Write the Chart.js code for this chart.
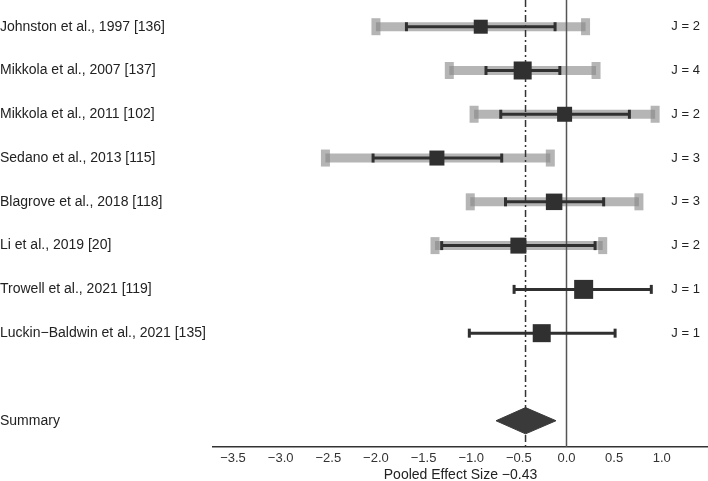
<!DOCTYPE html>
<html>
<head>
<meta charset="utf-8">
<script src="https://cdn.jsdelivr.net/npm/chart.js@4.4.1/dist/chart.umd.min.js"></script>
<style>
    html, body { margin: 0; padding: 0; background: #fff; }
    #wrap { width: 708px; height: 481px; }
</style>
</head>
<body>
<div id="wrap"><canvas id="forestChart"></canvas></div>
<script>
const studies = [
    'Johnston et al., 1997 [136]',
    'Mikkola et al., 2007 [137]',
    'Mikkola et al., 2011 [102]',
    'Sedano et al., 2013 [115]',
    'Blagrove et al., 2018 [118]',
    'Li et al., 2019 [20]',
    'Trowell et al., 2021 [119]',
    'Luckin\u2212Baldwin et al., 2021 [135]'
];
const estimate = [-0.90, -0.46, -0.02, -1.36, -0.13, -0.505, 0.18, -0.26];
const ciLow = [-1.68, -0.845, -0.69, -2.03, -0.64, -1.31, -0.55, -1.02];
const ciHigh = [-0.12, -0.07, 0.66, -0.68, 0.39, 0.30, 0.89, 0.51];
const outerLow = [-2.00, -1.23, -0.97, -2.53, -1.01, -1.38, null, null];
const outerHigh = [0.20, 0.31, 0.93, -0.17, 0.76, 0.38, null, null];
const nEffects = [2, 4, 2, 3, 3, 2, 1, 1];
const weights = [14, 18, 15, 15, 16.5, 16, 19, 18];
const pooled = -0.43;
const pooledLow = -0.74;
const pooledHigh = -0.11;
const xTicks = [-3.5, -3.0, -2.5, -2.0, -1.5, -1.0, -0.5, 0.0, 0.5, 1.0];

const rowLabels = [...studies, '', 'Summary'];
const summaryRow = rowLabels.length;
const yMin = 0.39;
const yMax = 10.6;
const diamondHalf = 0.3;
const jLabelX = 1.1;

const dark = '#303030';
const grayBand = 'rgba(136, 136, 136, 0.62)';
const fontFamily = '"Liberation Sans", Arial, sans-serif';

Chart.defaults.font.family = fontFamily;

const fmt = v => v.toFixed(1).replace('-', '\u2212');

const datasets = [];

// серые интервалы и тёмные доверительные интервалы
studies.forEach((s, i) => {
    if (outerLow[i] !== null) {
        datasets.push({
            type: 'line',
            data: [{x: outerLow[i], y: i + 1}, {x: outerHigh[i], y: i + 1}],
            borderColor: grayBand,
            borderWidth: 9,
            borderCapStyle: 'butt',
            pointRadius: 0,
            order: 7
        });
    }
    datasets.push({
        type: 'line',
        data: [{x: ciLow[i], y: i + 1}, {x: ciHigh[i], y: i + 1}],
        borderColor: dark,
        borderWidth: 3,
        borderCapStyle: 'butt',
        pointRadius: 0,
        order: 3
    });
});

const grayCaps = [];
const darkCaps = [];
studies.forEach((s, i) => {
    if (outerLow[i] !== null) {
        grayCaps.push({x: outerLow[i], y: i + 1}, {x: outerHigh[i], y: i + 1});
    }
    darkCaps.push({x: ciLow[i], y: i + 1}, {x: ciHigh[i], y: i + 1});
});

datasets.push({
    type: 'scatter',
    data: grayCaps,
    pointStyle: 'line',
    pointRotation: 90,
    pointRadius: 8.5,
    pointBorderWidth: 9,
    pointBorderColor: grayBand,
    order: 6
});

datasets.push({
    type: 'scatter',
    data: darkCaps,
    pointStyle: 'line',
    pointRotation: 90,
    pointRadius: 4.5,
    pointBorderWidth: 3,
    pointBorderColor: dark,
    order: 2
});

datasets.push({
    type: 'scatter',
    data: estimate.map((v, i) => ({x: v, y: i + 1})),
    pointStyle: 'rect',
    pointRadius: weights.map(w => w / Math.SQRT2),
    pointBackgroundColor: dark,
    pointBorderWidth: 0,
    order: 0
});

// ромб суммарного эффекта
datasets.push({
    type: 'line',
    data: [
        {x: pooledLow, y: summaryRow},
        {x: pooled, y: summaryRow - diamondHalf},
        {x: pooledHigh, y: summaryRow},
        {x: pooled, y: summaryRow + diamondHalf},
        {x: pooledLow, y: summaryRow}
    ],
    fill: 'shape',
    backgroundColor: '#3a3a3a',
    borderColor: '#3a3a3a',
    borderWidth: 1,
    pointRadius: 0,
    order: 1
});

datasets.push({
    type: 'line',
    data: [{x: 0, y: yMin}, {x: 0, y: yMax}],
    borderColor: '#555',
    borderWidth: 1.5,
    pointRadius: 0,
    order: 4
});

datasets.push({
    type: 'line',
    data: [{x: pooled, y: yMin}, {x: pooled, y: yMax}],
    borderColor: '#333',
    borderWidth: 1.5,
    borderDash: [7, 3, 2, 3],
    pointRadius: 0,
    order: 5
});

const jLabelPlugin = {
    id: 'jLabels',
    afterDatasetsDraw(chart) {
        const {ctx, scales: {x, y}} = chart;
        ctx.save();
        ctx.font = '13px ' + fontFamily;
        ctx.fillStyle = '#222';
        ctx.textAlign = 'left';
        ctx.textBaseline = 'middle';
        nEffects.forEach((n, i) => {
            ctx.fillText('J = ' + n, x.getPixelForValue(jLabelX), y.getPixelForValue(i + 1));
        });
        ctx.restore();
    }
};

const ctx = document.getElementById('forestChart').getContext('2d');
new Chart(ctx, {
    type: 'scatter',
    data: { datasets: datasets },
    options: {
        responsive: true,
        maintainAspectRatio: false,
        animation: false,
        events: [],
        layout: { padding: 0, autoPadding: false },
        plugins: {
            legend: { display: false },
            tooltip: { enabled: false }
        },
        scales: {
            x: {
                type: 'linear',
                min: -3.71,
                max: 1.485,
                afterBuildTicks: s => { s.ticks = xTicks.map(v => ({value: v})); },
                afterFit: s => { s.height = 34; s.paddingLeft = 0; s.paddingRight = 0; },
                grid: { display: false, drawTicks: false },
                border: { display: true, color: '#333', width: 1.5 },
                ticks: {
                    font: { size: 13 },
                    color: '#333',
                    padding: 4,
                    autoSkip: false,
                    maxRotation: 0,
                    callback: v => fmt(v)
                },
                title: {
                    display: true,
                    text: 'Pooled Effect Size \u22120.43',
                    color: '#222',
                    font: { size: 14 },
                    padding: { top: 0, bottom: -3 }
                }
            },
            y: {
                type: 'linear',
                reverse: true,
                min: yMin,
                max: yMax,
                afterBuildTicks: s => { s.ticks = rowLabels.map((l, i) => ({value: i + 1})); },
                afterFit: s => { s.width = 213; s.paddingTop = 0; s.paddingBottom = 0; },
                grid: { display: false, drawTicks: false },
                border: { display: false },
                ticks: {
                    crossAlign: 'far',
                    padding: 0,
                    autoSkip: false,
                    font: { size: 14 },
                    color: '#222',
                    callback: v => rowLabels[v - 1] ?? ''
                }
            }
        }
    },
    plugins: [jLabelPlugin]
});
</script>
</body>
</html>
